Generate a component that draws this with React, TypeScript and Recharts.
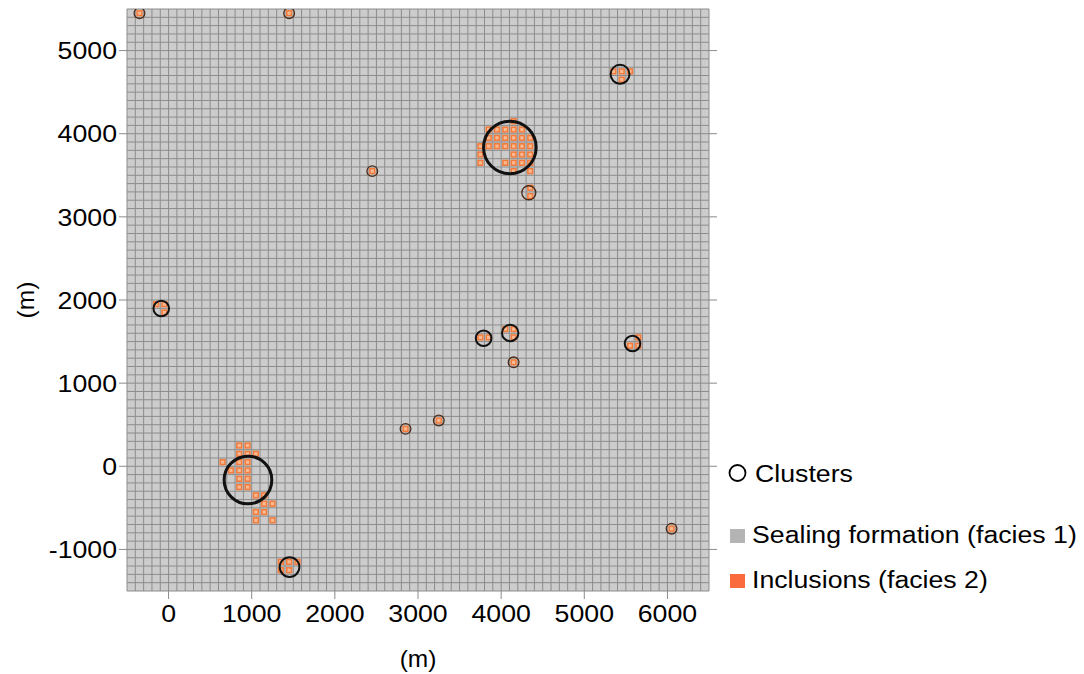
import React from 'react';
import { ScatterChart, Scatter, XAxis, YAxis, ZAxis, CartesianGrid } from 'recharts';

// ---------- data ----------
const xTicks = [0, 1000, 2000, 3000, 4000, 5000, 6000];
const yTicks = [-1000, 0, 1000, 2000, 3000, 4000, 5000];
const xDomain: [number, number] = [-500, 6500];
const yDomain: [number, number] = [-1500, 5500];
const cellSize = 100; // m, size of a grid cell
const gridX = Array.from({ length: 71 }, (_, i) => xDomain[0] + i * cellSize);
const gridY = Array.from({ length: 71 }, (_, i) => yDomain[0] + i * cellSize);

// centres of cells belonging to facies 2 (inclusions), in m
const inclusionCells: [number, number][] = [
  // cluster near (950,-150)
  [850, 250], [950, 250],
  [850, 150], [950, 150], [1050, 150],
  [650, 50], [850, 50], [950, 50],
  [750, -50], [850, -50], [950, -50],
  [850, -150], [950, -150],
  [850, -250], [950, -250],
  [1050, -350], [1150, -350],
  [1150, -450], [1250, -450],
  [1050, -550], [1150, -550],
  [1050, -650], [1250, -650],
  // cluster near (1450,-1200)
  [1350, -1150], [1450, -1150], [1550, -1150], [1350, -1250], [1450, -1250],
  // large cluster near (4100,3850)
  [4150, 4150],
  [3850, 4050], [3950, 4050], [4050, 4050], [4150, 4050], [4250, 4050],
  [3850, 3950], [3950, 3950], [4050, 3950], [4150, 3950], [4250, 3950], [4350, 3950],
  [3750, 3850], [3850, 3850], [3950, 3850], [4050, 3850], [4150, 3850], [4250, 3850], [4350, 3850],
  [3750, 3750], [4150, 3750], [4250, 3750], [4350, 3750],
  [3750, 3650], [4050, 3650], [4150, 3650], [4250, 3650], [4350, 3650],
  [4150, 3550], [4350, 3550],
  // small clusters
  [4350, 3350], [4350, 3250],
  [5350, 4750], [5450, 4750], [5550, 4750], [5450, 4650],
  [-150, 1950], [-50, 1950], [-50, 1850],
  [3750, 1550], [3850, 1550],
  [4050, 1650], [4150, 1650], [4150, 1550],
  [5550, 1450], [5650, 1450], [5650, 1550],
  // single cells
  [-350, 5450], [1450, 5450], [2450, 3550], [2850, 450], [3250, 550], [4150, 1250], [6050, -750],
];

// cluster circles: centre x, centre y, radius (m)
const clusterX = [955, 1455, 4105, 4333, 5430, -88, 3789, 4109, 5580, -350, 1450, 2450, 2850, 3250, 4150, 6050];
const clusterY = [-165, -1212, 3835, 3290, 4715, 1898, 1540, 1604, 1477, 5450, 5450, 3550, 450, 550, 1250, -750];
const clusterR = [290, 120, 320, 85, 115, 95, 95, 100, 95, 65, 65, 65, 65, 65, 65, 65];

const legendLabels = ['Clusters', 'Sealing formation (facies 1)', 'Inclusions (facies 2)'];

// ---------- layout ----------
const W = 1084;
const H = 674;
const LEFT_AXIS_W = 127;
const RIGHT_AXIS_W = 10;
const MARGIN_RIGHT = 365;
const TOP_AXIS_H = 9;
const BOTTOM_AXIS_H = 83;
const PLOT_W = W - LEFT_AXIS_W - RIGHT_AXIS_W - MARGIN_RIGHT;
const PX_PER_M = PLOT_W / (xDomain[1] - xDomain[0]);
const Z_MAX = 100000;
const FONT = "'Liberation Sans', Arial, sans-serif";
const FS = 24.5;
const STRETCH = 1.09;

const inclusionData = inclusionCells.map(([x, y]) => ({ x, y }));
const clusterData = clusterX.map((x, i) => ({ x, y: clusterY[i], r: clusterR[i], z: clusterR[i] * clusterR[i] }));

const InclusionShape = (p: any) => {
  const s = 4.8;
  return (
    <g>
      <rect x={p.cx - s / 2} y={p.cy - s / 2} width={s} height={s} fill="#f8b890" stroke="#f27a3a" strokeWidth={1.5} />
    </g>
  );
};

const ClusterShape = (p: any) => {
  const r = p.width ? p.width / 2 : Math.sqrt((p.size || 0) / Math.PI);
  const sw = r > 18 ? 3 : r > 7 ? 2 : 1.3;
  return <circle cx={p.cx} cy={p.cy} r={r} fill="none" stroke={r > 7 ? '#111' : '#4a2a1a'} strokeWidth={sw} />;
};

const XTick = (p: any) => (
  <g transform={`translate(${p.x},${p.y}) scale(${STRETCH},1)`}>
    <text x={0} y={0} dy="0.71em" textAnchor="middle" fill="#000" fontSize={FS} fontFamily={FONT}>
      {p.payload.value}
    </text>
  </g>
);

const YTick = (p: any) => (
  <g transform={`translate(${p.x},${p.y}) scale(${STRETCH},1)`}>
    <text x={0} y={0} dy="0.355em" textAnchor="end" fill="#000" fontSize={FS} fontFamily={FONT}>
      {p.payload.value}
    </text>
  </g>
);

const XTitle = (p: any) => {
  const vb = p.viewBox || { x: 0, y: 0, width: 0, height: 0 };
  return (
    <text x={vb.x + vb.width / 2} y={vb.y + 76} textAnchor="middle" fill="#000" fontSize={FS} fontFamily={FONT}>
      (m)
    </text>
  );
};

const YTitle = (p: any) => {
  const vb = p.viewBox || { x: 0, y: 0, width: 0, height: 0 };
  const cx = 25;
  const cy = vb.y + vb.height / 2;
  return (
    <text x={cx} y={cy} transform={`rotate(-90, ${cx}, ${cy})`} dy="0.355em" textAnchor="middle" fill="#000" fontSize={FS} fontFamily={FONT}>
      (m)
    </text>
  );
};

const Legend = () => (
  <svg width={W} height={H} style={{ position: 'absolute', left: 0, top: 0, pointerEvents: 'none' }}>
    <circle cx={737.5} cy={473} r={8} fill="none" stroke="#000" strokeWidth={1.8} />
    <rect x={730} y={529} width={15} height={14} fill="#b4b4b4" />
    <rect x={730} y={574} width={15} height={14} fill="#fa6a3c" />
    {legendLabels.map((t, i) => (
      <g key={t} transform={`translate(${i === 0 ? 755 : 752},${[482, 543, 588][i]}) scale(${STRETCH},1)`}>
        <text x={0} y={0} fill="#000" fontSize={FS} fontFamily={FONT}>{t}</text>
      </g>
    ))}
  </svg>
);

export default function App() {
  return (
    <div style={{ position: 'fixed', left: 0, top: 0, width: W, height: H, background: '#fff' }}>
      <ScatterChart width={W} height={H} margin={{ top: 0, right: MARGIN_RIGHT, bottom: 0, left: 0 }}>
        <CartesianGrid
          fill="#cccccc"
          fillOpacity={1}
          stroke="#8c8c8c"
          strokeWidth={1}
          verticalValues={gridX}
          horizontalValues={gridY}
        />
        <XAxis
          xAxisId={0}
          type="number"
          dataKey="x"
          domain={xDomain}
          allowDataOverflow
          ticks={xTicks}
          interval={0}
          height={BOTTOM_AXIS_H}
          tickSize={8}
          tickMargin={6}
          axisLine={false}
          tickLine={{ stroke: '#8a8a8a' }}
          tick={<XTick />}
          label={<XTitle />}
        />
        <XAxis
          xAxisId="top"
          orientation="top"
          type="number"
          domain={xDomain}
          allowDataOverflow
          ticks={xTicks}
          interval={0}
          height={TOP_AXIS_H}
          tickSize={8}
          axisLine={false}
          tickLine={{ stroke: '#8a8a8a' }}
          tickFormatter={() => ''}
        />
        <YAxis
          yAxisId={0}
          type="number"
          dataKey="y"
          domain={yDomain}
          allowDataOverflow
          ticks={yTicks}
          interval={0}
          width={LEFT_AXIS_W}
          tickSize={8}
          tickMargin={2}
          axisLine={false}
          tickLine={{ stroke: '#8a8a8a' }}
          tick={<YTick />}
          label={<YTitle />}
        />
        <YAxis
          yAxisId="right"
          orientation="right"
          type="number"
          domain={yDomain}
          allowDataOverflow
          ticks={yTicks}
          interval={0}
          width={RIGHT_AXIS_W}
          tickSize={8}
          axisLine={false}
          tickLine={{ stroke: '#8a8a8a' }}
          tickFormatter={() => ''}
        />
        <ZAxis zAxisId="cz" type="number" dataKey="z" domain={[0, Z_MAX]} range={[0, Math.PI * PX_PER_M * PX_PER_M * Z_MAX]} />
        <Scatter data={inclusionData} dataKey="y" shape={<InclusionShape />} isAnimationActive={false} />
        <Scatter data={clusterData} dataKey="y" zAxisId="cz" shape={<ClusterShape />} isAnimationActive={false} />
      </ScatterChart>
      <Legend />
    </div>
  );
}
